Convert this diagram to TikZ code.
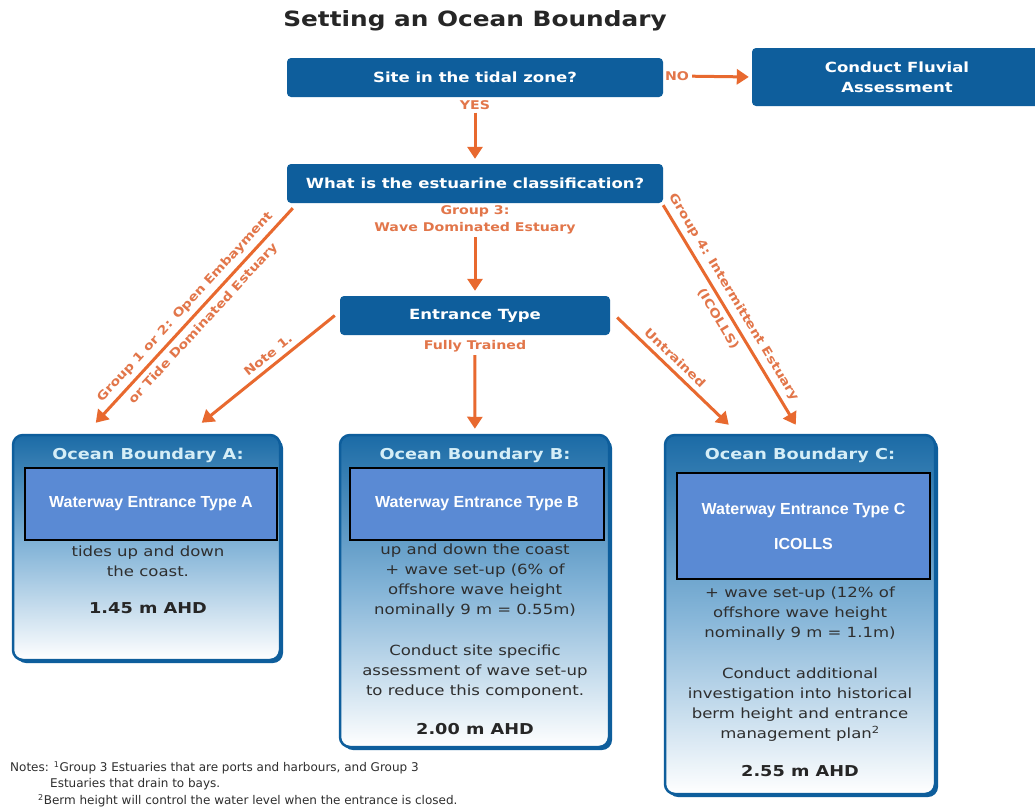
\documentclass[tikz,border=0pt]{standalone}
\usepackage{fontspec}
\setmainfont[FakeStretch=1.18]{DejaVu Sans}
\newfontfamily\notefont{DejaVu Sans}
\newfontfamily\patchfont{Liberation Sans}
\usetikzlibrary{positioning,arrows.meta,calc,shadows}

\definecolor{oceanblue}{HTML}{0E5E9C}
\definecolor{boxtop}{HTML}{1B6BA6}
\definecolor{boxmid}{HTML}{85B5D8}
\definecolor{headlight}{HTML}{D5EEF7}
\definecolor{patchblue}{HTML}{5A8AD4}
\definecolor{floworange}{HTML}{E8692F}
\definecolor{labelorange}{HTML}{E2764A}
\definecolor{bodygray}{HTML}{2E2E2E}

\begin{document}
\begin{tikzpicture}[x=1pt,y=-1pt,
  question/.style={fill=oceanblue, rounded corners=4pt, text=white,
    font=\bfseries\fontsize{14}{20}\selectfont, align=center, inner sep=0pt},
  outcome/.style={draw=oceanblue, line width=2.5pt, rounded corners=10pt,
    top color=boxtop, bottom color=white, middle color=boxmid,
    drop shadow={shadow xshift=3pt, shadow yshift=-3pt, fill=oceanblue, opacity=1},
    inner sep=0pt},
  patch/.style={fill=patchblue, draw=black, line width=1.2pt, text=white,
    font=\patchfont\bfseries\fontsize{16}{35}\selectfont, align=center, inner sep=0pt},
  boxtitle/.style={text=headlight, font=\bfseries\fontsize{15}{18}\selectfont},
  bodytext/.style={text=bodygray, font=\fontsize{14}{20}\selectfont, align=center},
  level/.style={text=black!85, font=\bfseries\fontsize{15}{18}\selectfont},
  flow/.style={draw=floworange, line width=3pt, -{Triangle[length=12pt,width=15pt]}},
  flowlabel/.style={text=labelorange, font=\bfseries\fontsize{12}{17}\selectfont,
    inner sep=1pt, align=center},
  note/.style={text=bodygray, font=\notefont\fontsize{12}{14}\selectfont, anchor=west, inner sep=0pt}
]
  \fill[white] (0,0) rectangle (1035,809);
  \useasboundingbox (0,0) rectangle (1035,809);

  % Titolo
  \node[font=\bfseries\fontsize{21}{24}\selectfont, text=black!85] (title) at (475,21) {Setting an Ocean Boundary};

  % Domande
  \node[question, minimum width=376, minimum height=39] (tidal) at (475,77.5) {Site in the tidal zone?};
  \node[question, minimum width=290, minimum height=58] (fluvial) at (897,77) {Conduct Fluvial\\Assessment};
  \node[question, minimum width=376, minimum height=39] (classify) at (475,183.5) {What is the estuarine classification?};
  \node[question, minimum width=270, minimum height=39] (entrance) at (475,315.5) {Entrance Type};

  % Etichette
  \node[flowlabel] (no) at (677,76) {NO};
  \node[flowlabel] (yes) at (475,105) {YES};
  \node[flowlabel] (group3) at (475,220) {Group 3:\\Wave Dominated Estuary};
  \node[flowlabel] (trained) at (475,346) {Fully Trained};

  % Risultati
  \node[outcome, minimum width=267, minimum height=225] (boxA) at (146.5,547.5) {};
  \node[outcome, minimum width=269, minimum height=312] (boxB) at (474.5,591) {};
  \node[outcome, minimum width=270, minimum height=359] (boxC) at (800,614.5) {};

  \node[boxtitle] (titleA) at (148,455) {Ocean Boundary A:};
  \node[boxtitle] (titleB) at (475,455) {Ocean Boundary B:};
  \node[boxtitle] (titleC) at (800,455) {Ocean Boundary C:};

  \node[patch, minimum width=252, minimum height=72] (patchA) at (151,504) {Waterway Entrance Type A};
  \node[patch, minimum width=254, minimum height=72] (patchB) at (477,504) {Waterway Entrance Type B};
  \node[patch, minimum width=253, minimum height=106] (patchC) at (803.5,526) {Waterway Entrance Type C\\ICOLLS};

  \node[bodytext] (textA) at (148,561) {tides up and down\\the coast.};
  \node[level] (levelA) at (148,608) {1.45 m AHD};

  \node[bodytext] (textB) at (475,581) {up and down the coast\\+ wave set-up (6\% of\\offshore wave height\\nominally 9 m = 0.55m)};
  \node[bodytext] (adviceB) at (475,672) {Conduct site specific\\assessment of wave set-up\\to reduce this component.};
  \node[level] (levelB) at (475,729) {2.00 m AHD};

  \node[bodytext] (textC) at (800,613.5) {+ wave set-up (12\% of\\offshore wave height\\nominally 9 m = 1.1m)};
  \node[bodytext] (adviceC) at (800,704.5) {Conduct additional\\investigation into historical\\berm height and entrance\\management plan\textsuperscript{2}};
  \node[level] (levelC) at (800,771) {2.55 m AHD};

  % Note
  \node[note] (note1) at (10,768) {Notes: \textsuperscript{1}Group 3 Estuaries that are ports and harbours, and Group 3};
  \node[note] (note1b) at (50,784) {Estuaries that drain to bays.};
  \node[note] (note2) at (38,801) {\textsuperscript{2}Berm height will control the water level when the entrance is closed.};

  % Frecce
  \draw[flow, shorten <=2pt, shorten >=3pt] (no) -- (fluvial.west);
  \draw[flow, shorten <=2pt, shorten >=5pt] (yes) -- (classify);
  \draw[flow, shorten <=2pt, shorten >=5pt] (group3) -- (entrance);
  \draw[flow, shorten <=2pt, shorten >=5pt] (trained) -- (boxB);

  \draw[flow] ($(classify.south west)+(6,5)$) -- ($(boxA.north west)+(84,-11)$)
    node[flowlabel, pos=0.5, sloped, above=4pt] {Group 1 or 2: Open Embayment}
    node[flowlabel, pos=0.5, sloped, below=4pt] {or Tide Dominated Estuary};
  \draw[flow] ($(entrance.west)+(-5,0)$) -- ($(boxA.north west)+(190,-11)$)
    node[flowlabel, pos=0.45, sloped, above=4pt] {Note 1.};
  \draw[flow] ($(entrance.east)+(7,2)$) -- ($(boxC.north west)+(65,-9)$)
    node[flowlabel, pos=0.45, sloped, above=4pt] {Untrained};
  \draw[flow] ($(classify.south east)+(0,2)$) -- ($(boxC.north west)+(132,-9)$)
    node[flowlabel, pos=0.45, sloped, above=4pt] {Group 4: Intermittent Estuary}
    node[flowlabel, pos=0.49, sloped, below=4pt] {(ICOLLS)};
\end{tikzpicture}
\end{document}
